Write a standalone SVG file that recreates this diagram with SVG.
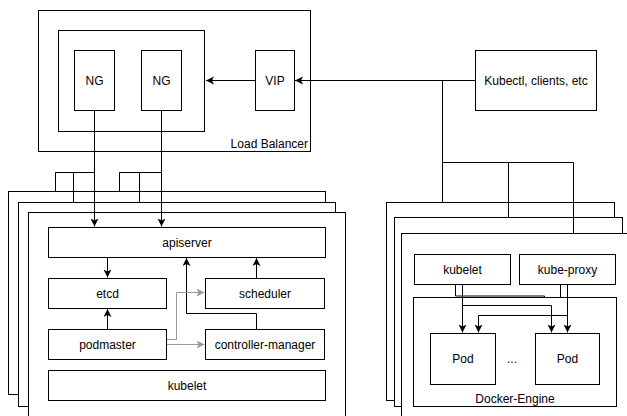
<svg xmlns="http://www.w3.org/2000/svg" width="627" height="416" viewBox="0 0 627 416">
<style>
.b{fill:#fff;stroke:#000;stroke-width:1}
.n{fill:none;stroke:#000;stroke-width:1}
.c{fill:none;stroke:#000;stroke-width:1}
.g{fill:none;stroke:#999;stroke-width:1}
text{font-family:"Liberation Sans",Arial,sans-serif;font-size:12px;fill:#000;text-anchor:middle}
</style>
<defs>
<marker id="a" markerUnits="userSpaceOnUse" markerWidth="10" markerHeight="10" refX="8" refY="4" orient="auto">
<path d="M0,0 L8,4 L0,8 L2,4 z" fill="#000"/>
</marker>
<marker id="ag" markerUnits="userSpaceOnUse" markerWidth="10" markerHeight="10" refX="8" refY="4" orient="auto">
<path d="M0,0 L8,4 L0,8 L2,4 z" fill="#999"/>
</marker>
</defs>
<rect width="627" height="416" fill="#fff"/>

<g id="loadbalancer">
<rect class="b" x="38.5" y="10.5" width="272" height="141"/>
<text x="308" y="148" style="text-anchor:end">Load Balancer</text>
</g>
<g id="ng-group">
<rect class="b" x="58.5" y="30.5" width="146" height="101"/>
</g>
<g id="ng1">
<rect class="b" x="74.5" y="50.5" width="40" height="60"/>
<text x="94.5" y="85">NG</text>
</g>
<g id="ng2">
<rect class="b" x="141.5" y="50.5" width="40" height="60"/>
<text x="161.5" y="85">NG</text>
</g>
<g id="vip">
<rect class="b" x="255.5" y="50.5" width="39" height="60"/>
<text x="275" y="85">VIP</text>
</g>
<g id="kubectl">
<rect class="b" x="475.5" y="50.5" width="121" height="60"/>
<text x="536" y="85">Kubectl, clients, etc</text>
</g>

<g id="master-nodes">
<rect class="b" x="8.5" y="191.5" width="317" height="203"/>
<rect class="b" x="18.5" y="202.5" width="317" height="204"/>
<rect class="b" x="28.5" y="212.5" width="317" height="220"/>
</g>
<g id="apiserver">
<rect class="b" x="48.5" y="227.5" width="277" height="30"/>
<text x="187" y="246.5">apiserver</text>
</g>
<g id="etcd">
<rect class="b" x="48.5" y="278.5" width="118" height="30"/>
<text x="107.5" y="297.5">etcd</text>
</g>
<g id="scheduler">
<rect class="b" x="205.5" y="278.5" width="119" height="30"/>
<text x="265" y="297.5">scheduler</text>
</g>
<g id="podmaster">
<rect class="b" x="48.5" y="329.5" width="118" height="30"/>
<text x="107.5" y="348.5">podmaster</text>
</g>
<g id="controller-manager">
<rect class="b" x="205.5" y="329.5" width="119" height="30"/>
<text x="265" y="348.5">controller-manager</text>
</g>
<g id="kubelet-master">
<rect class="b" x="48.5" y="370.5" width="277" height="30"/>
<text x="187" y="389.5">kubelet</text>
</g>

<g id="worker-nodes">
<rect class="b" x="386.5" y="202.5" width="228" height="198"/>
<rect class="b" x="394.5" y="217.5" width="228" height="189"/>
<rect class="b" x="401.5" y="233.5" width="240" height="200"/>
</g>
<g id="kubelet-worker">
<rect class="b" x="414.5" y="254.5" width="96" height="30"/>
<text x="462.5" y="273.5">kubelet</text>
</g>
<g id="kube-proxy">
<rect class="b" x="519.5" y="254.5" width="96" height="30"/>
<text x="567.5" y="273.5">kube-proxy</text>
</g>
<g id="docker-engine">
<rect class="b" x="413.5" y="297.5" width="203" height="109"/>
<text x="515" y="403">Docker-Engine</text>
</g>
<g id="pod1">
<rect class="b" x="430.5" y="333.5" width="65" height="51"/>
<text x="463" y="362.5">Pod</text>
</g>
<g id="pod2">
<rect class="b" x="535.5" y="333.5" width="64" height="51"/>
<text x="567.5" y="362.5">Pod</text>
</g>
<g id="ellipsis">
<text x="512" y="362.5">...</text>
</g>

<g id="connectors">
<path class="c" d="M475,80.5 H295" marker-end="url(#a)"/>
<path class="n" d="M442.5,80.5 V202"/>
<path class="n" d="M442.5,162.5 H573.5 V233"/>
<path class="n" d="M508.5,162.5 V217"/>
<path class="c" d="M255,80.5 H206" marker-end="url(#a)"/>

<path class="c" d="M94.5,111 V226.5" marker-end="url(#a)"/>
<path class="n" d="M94.5,172.5 H55.5 V191"/>
<path class="n" d="M73.5,172.5 V202"/>
<path class="c" d="M161.5,111 V226.5" marker-end="url(#a)"/>
<path class="n" d="M161.5,172.5 H119.5 V191"/>
<path class="n" d="M139.5,172.5 V202"/>

<path class="c" d="M107.5,258 V277.5" marker-end="url(#a)"/>
<path class="c" d="M107.5,329 V309" marker-end="url(#a)"/>
<path class="c" d="M256.5,278 V258" marker-end="url(#a)"/>
<path class="c" d="M256.5,329 V313.5 H186.5 V258" marker-end="url(#a)"/>
<path class="g" d="M167,339.5 H176.5 V292.5 H204.5" marker-end="url(#ag)"/>
<path class="g" d="M167,344.5 H204.5" marker-end="url(#ag)"/>

<path class="n" d="M455.5,285 V296 H544.5 V297.5"/>
<path class="c" d="M462.5,285 V332.5" marker-end="url(#a)"/>
<path class="c" d="M462.5,305.5 H551.5 V332.5" marker-end="url(#a)"/>
<path class="n" d="M560.5,285 V297.5"/>
<path class="c" d="M567.5,285 V332.5" marker-end="url(#a)"/>
<path class="c" d="M567.5,315.5 H478.5 V332.5" marker-end="url(#a)"/>
</g>
</svg>
